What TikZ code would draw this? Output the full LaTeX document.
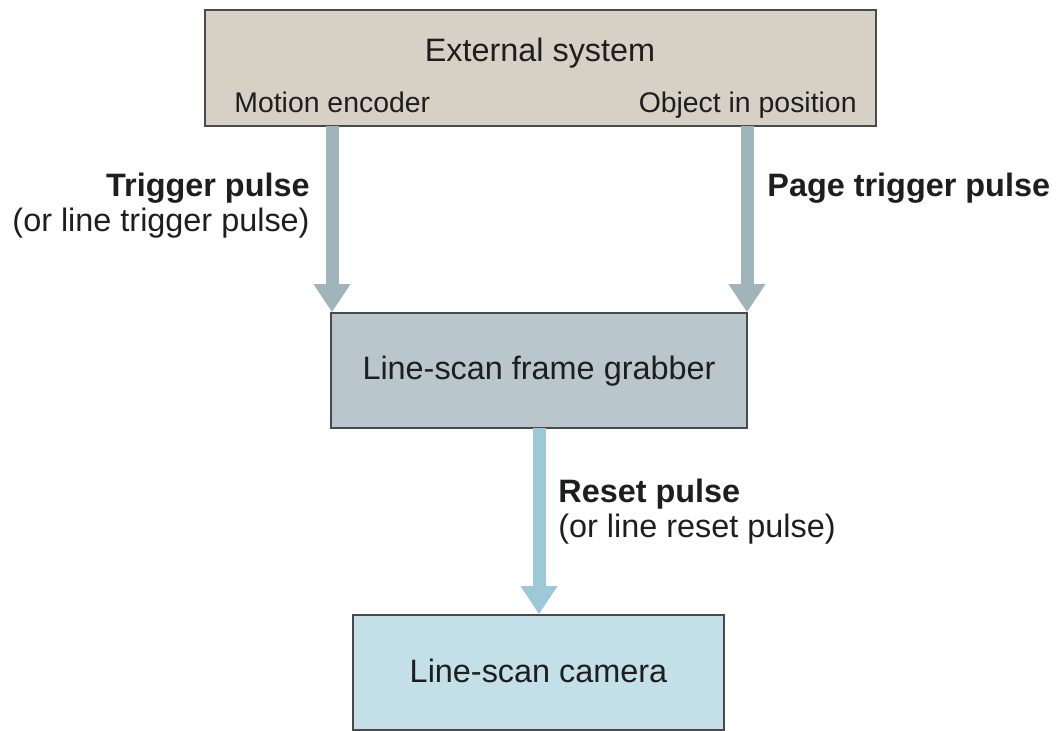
\documentclass[tikz,border=0pt]{standalone}
\usepackage{fontspec}
\setmainfont{Liberation Sans}
\usetikzlibrary{arrows.meta}
\definecolor{extfill}{HTML}{D7D0C5}
\definecolor{grabfill}{HTML}{B9C6CB}
\definecolor{camfill}{HTML}{C3DFE7}
\definecolor{boxline}{HTML}{4A4A4A}
\definecolor{arrgray}{HTML}{A0B5BB}
\definecolor{arrblue}{HTML}{9DC8D8}
\definecolor{txt}{HTML}{1E1E1E}
\tikzset{
  block/.style={draw=boxline, line width=0.8pt, inner sep=0pt, text=txt},
  bigtxt/.style={font=\fontsize{16.2}{19}\selectfont, text=txt, inner sep=0pt},
  smalltxt/.style={font=\fontsize{14.2}{17}\selectfont, text=txt, inner sep=0pt},
  fatarrow/.style={line width=6.5pt, -{Triangle[width=17.5pt,length=14pt]}}
}
\begin{document}
\begin{tikzpicture}[x=0.5pt,y=-0.5pt]
\useasboundingbox (0,0) rectangle (1056,731);
% boxes
\node[block, fill=extfill, minimum width=335.5pt, minimum height=58pt] (ext) at (540.5,68) {};
\node[block, fill=grabfill, minimum width=208pt, minimum height=57.5pt] (grab) at (539,370.5) {};
\node[block, fill=camfill, minimum width=185.5pt, minimum height=57.5pt] (cam) at (538.5,672.5) {};
% box texts
\node[bigtxt, anchor=base] (exttitle) at (540,62) {External system};
\node[smalltxt, anchor=base west] (motion) at (234,113) {Motion encoder};
\node[smalltxt, anchor=base east] (object) at (857,113) {Object in position};
\node[bigtxt, anchor=base] (grabtxt) at (539,380) {Line-scan frame grabber};
\node[bigtxt, anchor=base] (camtxt) at (538.5,683) {Line-scan camera};
% arrows
\coordinate (l1) at (332,126);
\coordinate (r1) at (747,126);
\coordinate (b1) at (539,428);
\draw[fatarrow, arrgray] (l1) -- (l1 |- grab.north);
\draw[fatarrow, arrgray] (r1) -- (r1 |- grab.north);
\draw[fatarrow, arrblue] (b1) -- (b1 |- cam.north);
% labels
\node[bigtxt, anchor=base east, font=\fontsize{16.2}{19}\selectfont\bfseries] (trig) at (310,197) {Trigger pulse};
\node[bigtxt, anchor=base east] (trig2) at (310,232) {(or line trigger pulse)};
\node[bigtxt, anchor=base west, font=\fontsize{16.2}{19}\selectfont\bfseries] (page) at (767,197) {Page trigger pulse};
\node[bigtxt, anchor=base west, font=\fontsize{16.2}{19}\selectfont\bfseries] (reset) at (558,503) {Reset pulse};
\node[bigtxt, anchor=base west] (reset2) at (558,538) {(or line reset pulse)};
\end{tikzpicture}
\end{document}
